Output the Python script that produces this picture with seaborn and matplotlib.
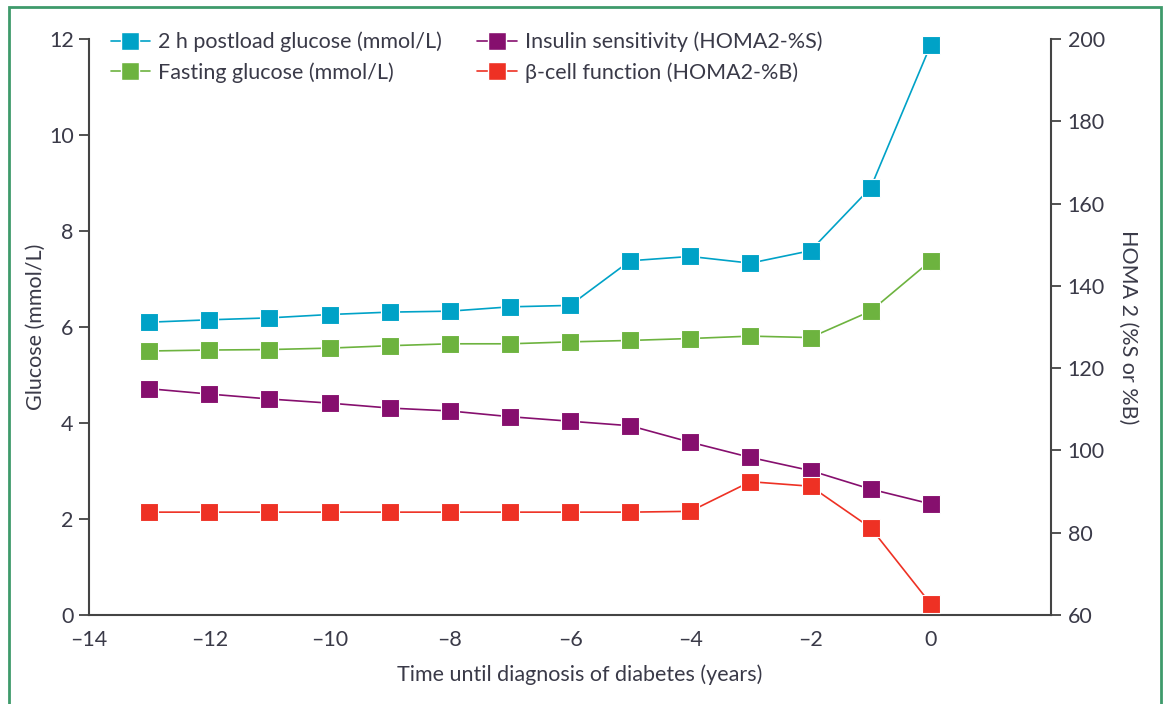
import matplotlib
matplotlib.use("Agg")
import matplotlib.pyplot as plt
import matplotlib.patches as mpatches
from matplotlib.lines import Line2D
import seaborn as sns
import pandas as pd

# Years before diagnosis
years = [-13, -12, -11, -10, -9, -8, -7, -6, -5, -4, -3, -2, -1, 0]

# Glucose series (mmol/L)
postload_glucose = [6.10, 6.15, 6.19, 6.26, 6.31, 6.33, 6.42, 6.45, 7.38, 7.47, 7.33, 7.59, 8.90, 11.88]
fasting_glucose = [5.50, 5.52, 5.53, 5.56, 5.61, 5.65, 5.65, 5.69, 5.72, 5.76, 5.81, 5.78, 6.33, 7.38]

# HOMA2 series (%)
insulin_sensitivity = [115.0, 113.7, 112.5, 111.5, 110.3, 109.6, 108.2, 107.1, 106.0, 102.0, 98.3, 95.1, 90.6, 87.0]
beta_cell_function = [85.0, 85.0, 85.0, 85.0, 85.0, 85.0, 85.0, 85.0, 85.0, 85.2, 92.4, 91.3, 81.2, 62.7]

x_ticks = [-14, -12, -10, -8, -6, -4, -2, 0]
glucose_ticks = [0, 2, 4, 6, 8, 10, 12]
homa_ticks = [60, 80, 100, 120, 140, 160, 180, 200]

labels = {
    "postload": "2 h postload glucose (mmol/L)",
    "fasting": "Fasting glucose (mmol/L)",
    "sensitivity": "Insulin sensitivity (HOMA2-%S)",
    "beta": "\u03b2-cell function (HOMA2-%B)",
}
colors = {
    "postload": "#00a2c7",
    "fasting": "#6db33f",
    "sensitivity": "#860f6e",
    "beta": "#ee3124",
}

sns.set_theme(style="white")
plt.rcParams["font.family"] = ["Lato", "DejaVu Sans"]
text_color = "#3a3a48"
spine_color = "#444444"
fs = 15.5

glucose_df = pd.DataFrame({
    "year": years * 2,
    "value": postload_glucose + fasting_glucose,
    "series": [labels["postload"]] * len(years) + [labels["fasting"]] * len(years),
})
homa_df = pd.DataFrame({
    "year": years * 2,
    "value": insulin_sensitivity + beta_cell_function,
    "series": [labels["sensitivity"]] * len(years) + [labels["beta"]] * len(years),
})

fig = plt.figure(figsize=(11.67, 7.04), dpi=100)
ax = fig.add_axes([89 / 1167, 89 / 704, (1051 - 89) / 1167, (615 - 39) / 704])
ax2 = ax.twinx()

line_kw = dict(marker="s", markersize=12.5, markeredgewidth=0.8, linewidth=1.2,
               clip_on=False, legend=False)

sns.lineplot(data=homa_df, x="year", y="value", hue="series", ax=ax2,
             palette={labels["sensitivity"]: colors["sensitivity"], labels["beta"]: colors["beta"]},
             markeredgecolor="white", **line_kw)
sns.lineplot(data=glucose_df, x="year", y="value", hue="series", ax=ax,
             palette={labels["postload"]: colors["postload"], labels["fasting"]: colors["fasting"]},
             markeredgecolor="white", **line_kw)

ax.set_xlim(-14, 2)
ax.set_ylim(0, 12)
ax2.set_ylim(60, 200)

ax.set_xticks(x_ticks)
ax.set_xticklabels([f"\u2013{abs(t)}" if t < 0 else str(t) for t in x_ticks])
ax.set_yticks(glucose_ticks)
ax2.set_yticks(homa_ticks)

for a in (ax, ax2):
    a.spines["top"].set_visible(False)
    for s in a.spines.values():
        s.set_color(spine_color)
        s.set_linewidth(1.5)
    a.tick_params(colors=spine_color, labelcolor=text_color, labelsize=fs,
                  length=7, width=1.3, direction="out")
    a.grid(False)
ax.spines["right"].set_visible(False)
ax2.spines["left"].set_visible(False)
ax2.spines["bottom"].set_visible(False)
ax.tick_params(axis="y", pad=4)
ax.tick_params(axis="x", pad=3, length=8)
ax2.tick_params(axis="y", pad=5)

ax.set_xlabel("Time until diagnosis of diabetes (years)", fontsize=fs, color=text_color, labelpad=14)
ax.xaxis.set_label_coords(0.510, -0.085)
ax.set_ylabel("Glucose (mmol/L)", fontsize=fs, color=text_color, labelpad=2)
ax2.set_ylabel("HOMA 2 (%S or %B)", fontsize=fs, color=text_color, rotation=270,
               labelpad=24)

# Legend with line+square handles in two columns
handles = [
    Line2D([], [], color=colors[k], marker="s", markersize=12.5, markeredgecolor="white", lw=1.2)
    for k in ("postload", "fasting", "sensitivity", "beta")
]
leg = ax2.legend(handles, [labels["postload"], labels["fasting"], labels["sensitivity"], labels["beta"]],
                 ncol=2, loc="upper left", bbox_to_anchor=(0.0, 1.05), frameon=False,
                 fontsize=fs, handlelength=1.85, handletextpad=0.35, columnspacing=1.65,
                 labelspacing=0.45, borderaxespad=0.6)
for t in leg.get_texts():
    t.set_color(text_color)

# Figure frame
fig.patches.append(mpatches.Rectangle((9 / 1167, -0.05), (1161 - 9) / 1167, 1.05 - 7 / 704,
                                      transform=fig.transFigure, fill=False,
                                      edgecolor="#3f9a6b", linewidth=2))

fig.savefig("out.png", dpi=100, facecolor="white")
